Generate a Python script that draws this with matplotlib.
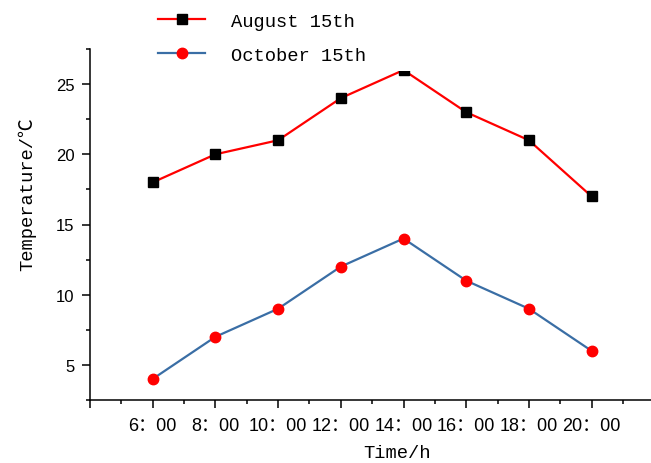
import matplotlib
matplotlib.use('Agg')
import matplotlib.pyplot as plt
from matplotlib.ticker import FixedLocator, MultipleLocator

# data
hours = [6, 8, 10, 12, 14, 16, 18, 20]
aug = [18, 20, 21, 24, 26, 23, 21, 17]
octo = [4, 7, 9, 12, 14, 11, 9, 6]
x_major = [4, 6, 8, 10, 12, 14, 16, 18, 20]
x_labels = ['', '6：00', '8：00', '10：00', '12：00', '14：00', '16：00', '18：00', '20：00']
y_major = [5, 10, 15, 20, 25]

mono = ['Liberation Mono', 'DejaVu Sans Mono', 'Noto Sans CJK SC']
narrow = ['Liberation Sans Narrow', 'Liberation Sans', 'Noto Sans CJK SC']

fig = plt.figure(figsize=(6.51, 4.64), dpi=100)
ax = fig.add_axes([90/651, 63/464, 561/651, 351/464])

ax.plot(hours, aug, color='#ff0000', lw=1.6, marker='s', ms=7.5,
        mfc='black', mec='black', label='August 15th')
ax.plot(hours, octo, color='#3a6ea5', lw=1.6, marker='o', ms=7.5,
        mfc='red', mec='red', label='October 15th')

ax.set_xlim(4, 4 + 561/31.35)
ax.set_ylim(2.5, 27.5)

ax.spines['top'].set_visible(False)
ax.spines['right'].set_visible(False)
for s in ['left', 'bottom']:
    ax.spines[s].set_linewidth(1.1)

ax.xaxis.set_major_locator(FixedLocator(x_major))
ax.set_xticklabels(x_labels, family=narrow, fontsize=13)
ax.xaxis.set_minor_locator(MultipleLocator(1))
ax.yaxis.set_major_locator(FixedLocator(y_major))
ax.set_yticklabels([str(v) for v in y_major], family=narrow, fontsize=12)
ax.yaxis.set_minor_locator(MultipleLocator(2.5))
ax.tick_params(which='major', direction='out', length=6, width=1.1)
ax.tick_params(axis='x', which='major', pad=6)
ax.tick_params(axis='y', which='major', pad=5)
ax.tick_params(which='minor', direction='out', length=3, width=1.1)

ax.set_xlabel('Time/h', family=mono, fontsize=13.5)
ax.xaxis.set_label_coords(0.547, -0.125)
ax.set_ylabel('Temperature/℃', family=mono, fontsize=13.5, va='center')
ax.yaxis.set_label_coords(-0.112, 0.59)

# white legend box over the top of the plot, hides half of the 14:00 marker like the original
leg = fig.legend(loc='upper left', bbox_to_anchor=(151/651, 1 - 7/464, 272/651, 0.001),
                 mode='expand', prop={'family': mono, 'size': 13.5},
                 borderpad=0.39, labelspacing=0.88, handlelength=2.5,
                 handletextpad=1.4, borderaxespad=0, fancybox=False)
leg.get_frame().set_edgecolor('none')
leg.get_frame().set_facecolor('white')
leg.get_frame().set_alpha(1)

fig.savefig('out.png', dpi=100)
